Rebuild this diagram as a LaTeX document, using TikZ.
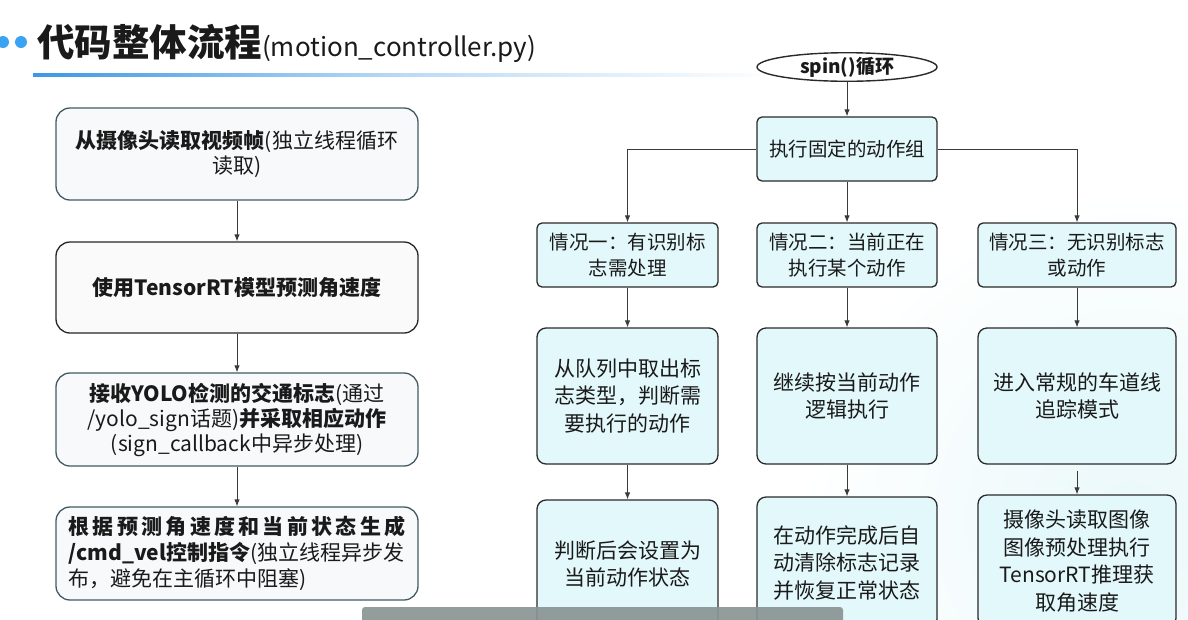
\documentclass[tikz,border=0pt]{standalone}
\usepackage{fontspec}
\setmainfont{Noto Sans CJK SC}
\usetikzlibrary{shapes.geometric,arrows.meta,calc}
\definecolor{bluedot}{HTML}{3AA3F2}
\definecolor{lineblue}{HTML}{3D98E6}
\definecolor{lborder}{HTML}{435A64}
\definecolor{lfill}{HTML}{F7F9FA}
\definecolor{rfill}{HTML}{E3F8FB}
\definecolor{rborder}{HTML}{2A2A2A}
\definecolor{txt}{HTML}{1A1A1A}
\definecolor{conn}{HTML}{3A3A3A}
\definecolor{subbar}{HTML}{8A9593}
\definecolor{bgtint}{HTML}{EAF8FA}
\begin{document}
\begin{tikzpicture}[x=1pt,y=-1pt,
  lbox/.style={draw=lborder,fill=lfill,line width=1.3pt,rounded corners=14pt,
    minimum width=362pt,inner sep=0pt,align=center,text=txt,
    font=\fontsize{21}{25}\selectfont},
  rbox/.style={draw=rborder,fill=rfill,line width=1.3pt,rounded corners=5pt,
    inner sep=0pt,align=center,text=txt,font=\fontsize{19.5}{26}\selectfont},
  rbig/.style={rbox,rounded corners=9pt,font=\fontsize{21}{27.5}\selectfont},
  oval/.style={ellipse,draw=rborder,fill=white,line width=1.4pt,inner sep=0pt,
    minimum width=180pt,minimum height=25pt,text=txt,
    font=\fontsize{19}{22}\selectfont\bfseries},
  arr/.style={draw=conn,line width=0.9pt,-{Latex[length=7pt,width=5.5pt]}}
]
\useasboundingbox (0,0) rectangle (1188,619);
\clip (0,0) rectangle (1188,619);

% faint background tint on the right
\shade[inner color=bgtint,outer color=white] (1130,520) circle (330);

% title
\fill[bluedot] (3,42) circle (6);
\fill[bluedot] (21,42) circle (6);
\node[anchor=base west,inner sep=0pt,text=txt] (title) at (37,56)
  {\fontsize{37.5}{40}\selectfont\bfseries 代码整体流程\fontsize{26}{28}\mdseries\selectfont(motion\_controller.py)};
\shade[left color=lineblue,right color=white,middle color=lineblue!35] (33,73.5) rectangle (780,76.5);

% left column
\node[lbox,minimum height=92pt] (L1) at (237,154)
  {\textbf{从摄像头读取视频帧}(独立线程循环\\读取)};
\node[lbox,draw=black!85,fill=black!2,minimum height=91pt] (L2) at (237,287.5)
  {\textbf{使用TensorRT模型预测角速度}};
\node[lbox,minimum height=93pt] (L3) at (237,419.5)
  {\textbf{接收YOLO检测的交通标志}(通过\\/yolo\_sign话题)\textbf{并采取相应动作}\\(sign\_callback中异步处理)};
\node[lbox,minimum height=93pt,align=left,font=\fontsize{21}{26}\selectfont] (L4) at (237,553.5)
  {\textbf{\makebox[337pt]{根\hfill 据\hfill 预\hfill 测\hfill 角\hfill 速\hfill 度\hfill 和\hfill 当\hfill 前\hfill 状\hfill 态\hfill 生\hfill 成}}\\
   \textbf{/cmd\_vel控制指令}(独立线程异步发\\布，避免在主循环中阻塞)};
\draw[arr] (L1) -- (L2);
\draw[arr] (L2) -- (L3);
\draw[arr] (L3) -- (L4);

% right column
\node[oval] (E) at (847,67) {spin()循环};
\node[rbox,minimum width=180pt,minimum height=64pt] (T) at (847,149) {执行固定的动作组};
\node[rbox,minimum width=181pt,minimum height=64pt] (A1) at (627.5,255) {情况一：有识别标\\志需处理};
\node[rbox,minimum width=180pt,minimum height=64pt] (B1) at (847,255) {情况二：当前正在\\执行某个动作};
\node[rbox,minimum width=198pt,minimum height=64pt] (C1) at (1077,255) {情况三：无识别标志\\或动作};

\node[rbig,minimum width=181pt,minimum height=136pt] (A2) at (627.5,396) {从队列中取出标\\志类型，判断需\\要执行的动作};
\node[rbig,minimum width=180pt,minimum height=136pt] (B2) at (847,396) {继续按当前动作\\逻辑执行};
\node[rbig,minimum width=198pt,minimum height=136pt] (C2) at (1077,396) {进入常规的车道线\\追踪模式};

\node[rbig,minimum width=181pt,minimum height=128pt] (A3) at (627.5,564) {判断后会设置为\\当前动作状态};
\node[rbig,minimum width=180pt,minimum height=131pt] (B3) at (847,562.5) {在动作完成后自\\动清除标志记录\\并恢复正常状态};
\node[rbig,minimum width=198pt,minimum height=132pt] (C3) at (1077,561) {摄像头读取图像\\图像预处理执行\\TensorRT推理获\\取角速度};

\draw[arr] (E) -- (T);
\draw[arr] (T.west) -| (A1.north);
\draw[arr] (T) -- (B1);
\draw[arr] (T.east) -| (C1.north);
\draw[arr] (A1) -- (A2);
\draw[arr] (B1) -- (B2);
\draw[arr] (C1) -- (C2);
\draw[arr] (A2) -- (A3);
\draw[arr] (B2) -- (B3);
\coordinate (c3start) at ($(C2.south)+(0,6)$);
\draw[arr] (c3start) -- (C3.north);

% subtitle bar overlay
\fill[subbar,opacity=0.92,rounded corners=3pt] (362,607) rectangle (843,630);
\end{tikzpicture}
\end{document}
